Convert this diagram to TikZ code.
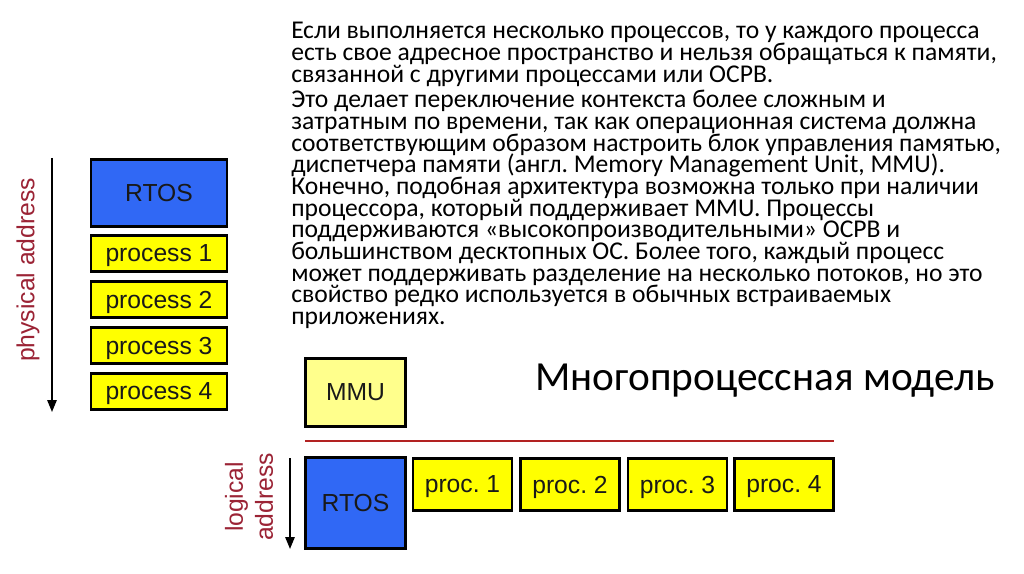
\documentclass[tikz,border=0pt]{standalone}
\usepackage{fontspec}
\setmainfont{Carlito}
\newfontfamily\arialf{Liberation Sans}
\usetikzlibrary{arrows.meta}
\definecolor{rtosblue}{HTML}{3068F5}
\definecolor{procyellow}{HTML}{FFFF00}
\definecolor{mmuyellow}{HTML}{FFFF8C}
\definecolor{labelred}{HTML}{9B2335}
\definecolor{linered}{HTML}{B22222}
\tikzset{
  membox/.style={draw=black, line width=2.2pt, inner sep=0pt, text depth=0pt, font=\arialf\fontsize{18.5}{20}\selectfont, text=black!90},
  bluebox/.style={membox, fill=rtosblue},
  yelbox/.style={membox, fill=procyellow},
  addrarrow/.style={line width=1.4pt, -{Triangle[length=9pt,width=7pt]}},
  addrlabel/.style={text=labelred, font=\arialf\fontsize{18.5}{22.5}\selectfont, rotate=90, align=center, inner sep=0pt}
}
\begin{document}
\frenchspacing
\begin{tikzpicture}[x=0.75pt,y=-0.75pt]
\fill[white] (0,0) rectangle (1024,574);
\useasboundingbox (0,0) rectangle (1024,574);
% paragraph text
\node[anchor=base west, inner sep=0pt] (para) at (291,39) {\parbox[t]{600pt}{\fontsize{19.2}{16.25}\selectfont\lineskiplimit=-100pt\lineskip=0pt\raggedright\frenchspacing
Если выполняется несколько процессов, то у каждого процесса\\
есть свое адресное пространство и нельзя обращаться к памяти,\\
связанной с другими процессами или ОСРВ.\\[3pt]
Это делает переключение контекста более сложным и\\
затратным по времени, так как операционная система должна\\
соответствующим образом настроить блок управления памятью,\\
диспетчера памяти (англ. Memory Management Unit, MMU).\\
Конечно, подобная архитектура возможна только при наличии\\
процессора, который поддерживает MMU. Процессы\\
поддерживаются «высокопроизводительными» ОСРВ и\\
большинством десктопных ОС. Более того, каждый процесс\\
может поддерживать разделение на несколько потоков, но это\\
свойство редко используется в обычных встраиваемых\\
приложениях.}};
% title
\node[anchor=base, inner sep=0pt, font=\fontsize{31}{36}\selectfont] (title) at (765,390) {Многопроцессная модель};
% physical memory map
\node[bluebox, minimum width=102pt, minimum height=50.25pt] (rtosA) at (159,193) {RTOS};
\node[yelbox, minimum width=102pt, minimum height=27pt] (p1) at (159,253.5) {process 1};
\node[yelbox, minimum width=102pt, minimum height=27pt] (p2) at (159,299.5) {process 2};
\node[yelbox, minimum width=102pt, minimum height=27pt] (p3) at (159,345.5) {process 3};
\node[yelbox, minimum width=102pt, minimum height=27pt] (p4) at (159,391.5) {process 4};
\coordinate (paTop) at (52,158);
\coordinate (paBot) at (52,412);
\draw[addrarrow] (paTop) -- (paBot);
\node[addrlabel] (physlbl) at (28,270) {physical address};
% logical memory map
\node[membox, fill=mmuyellow, minimum width=75pt, minimum height=51pt] (mmu) at (355.5,392.5) {MMU};
\coordinate (lineL) at (305,441);
\coordinate (lineR) at (834,441);
\draw[linered, line width=1pt] (lineL) -- (lineR);
\node[bluebox, minimum width=75pt, minimum height=68.25pt] (rtosB) at (355.5,503) {RTOS};
\node[yelbox, minimum width=74.25pt, minimum height=39pt] (q1) at (462.5,484.5) {proc. 1};
\node[yelbox, minimum width=74.25pt, minimum height=39pt] (q2) at (570,484.5) {proc. 2};
\node[yelbox, minimum width=74.25pt, minimum height=39pt] (q3) at (677.5,484.5) {proc. 3};
\node[yelbox, minimum width=74.25pt, minimum height=39pt] (q4) at (784,484.5) {proc. 4};
\coordinate (laTop) at (290,458);
\coordinate (laBot) at (290,549);
\draw[addrarrow] (laTop) -- (laBot);
\node[addrlabel] (loglbl) at (249,497) {logical\\address};
\end{tikzpicture}
\end{document}
